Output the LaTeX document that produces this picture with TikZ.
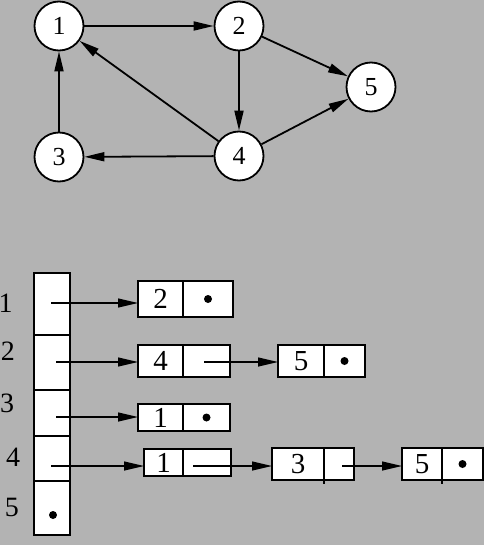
\documentclass[tikz,border=0pt]{standalone}
\usepackage{fontspec}
\setmainfont{Liberation Serif}
\usetikzlibrary{arrows.meta, positioning}
\definecolor{bggray}{RGB}{179,179,179}

\begin{document}
\begin{tikzpicture}[x=1pt, y=-1pt,
                    vtx/.style={draw, circle, fill=white, line width=1.8pt, minimum size=49pt,
                            inner sep=0pt, font=\fontsize{26}{26}\selectfont},
                    edge/.style={-{Triangle[length=20pt, width=9pt]}, line width=1.8pt},
                    slot/.style={draw, fill=white, line width=1.3pt, minimum width=36pt,
                            inner sep=0pt, outer sep=0pt},
                    cell/.style={draw, fill=white, line width=1.3pt, inner sep=0pt, outer sep=0pt,
                            font=\fontsize{29}{29}\selectfont},
                    lbl/.style={inner sep=0pt, font=\fontsize{28}{28}\selectfont},
                    ptr/.style={-{Triangle[length=20pt, width=9pt]}, line width=1.2pt},
                    nil/.style={circle, fill=black, inner sep=0pt, minimum size=8pt}]
                \fill[bggray] (0,0) rectangle (484,545);
                \useasboundingbox (0,0) rectangle (484,545);
                % graph
                \node[vtx] (v1) at (59,26) {1};
                \node[vtx] (v2) at (239,26) {2};
                \node[vtx] (v5) at (371,87) {5};
                \node[vtx] (v3) at (59,157) {3};
                \node[vtx] (v4) at (239,156) {4};
                \draw[edge] (v1) -- (v2);
                \draw[edge] (v2) -- (v5);
                \draw[edge] (v2) -- (v4);
                \draw[edge] (v4) -- (v5);
                \draw[edge] (v4) -- (v1);
                \draw[edge] (v4) -- (v3);
                \draw[edge] (v3) -- (v1);
                % adjacency array
                \node[slot, minimum height=62pt] (c1) at (52,304) {};
                \node[slot, minimum height=55pt] (c2) at (52,362.5) {};
                \node[slot, minimum height=46pt] (c3) at (52,413) {};
                \node[slot, minimum height=45pt] (c4) at (52,458.5) {};
                \node[slot, minimum height=54pt] (c5) at (52,508) {};
                \node[nil] (n5) at (53,515) {};
                \node[lbl] (r1) at (5.5,303) {1};
                \node[lbl] (r2) at (8,351) {2};
                \node[lbl] (r3) at (7,403) {3};
                \node[lbl] (r4) at (13,457) {4};
                \node[lbl] (r5) at (12,507) {5};
                % lists
                \node[cell, minimum width=45pt, minimum height=36pt] (k1) at (160.5,299) {2};
                \node[cell, minimum width=50pt, minimum height=36pt, right=0pt of k1] (p1) {};
                \node[nil] (n1) at (p1.center) {};
                \node[cell, minimum width=45pt, minimum height=32pt] (k2) at (160.5,361) {4};
                \node[cell, minimum width=47pt, minimum height=32pt, right=0pt of k2] (p2) {};
                \node[cell, minimum width=46pt, minimum height=32pt] (k2b) at (301,361) {5};
                \node[cell, minimum width=41pt, minimum height=32pt, right=0pt of k2b] (p2b) {};
                \node[nil] (n2) at (p2b.center) {};
                \node[cell, minimum width=45pt, minimum height=27pt] (k3) at (160.5,417.5) {1};
                \node[cell, minimum width=47pt, minimum height=27pt, right=0pt of k3] (p3) {};
                \node[nil] (n3) at (p3.center) {};
                \node[cell, minimum width=39pt, minimum height=27pt] (k4) at (163.5,462.5) {1};
                \node[cell, minimum width=48pt, minimum height=27pt, right=0pt of k4] (p4) {};
                \node[cell, minimum width=52pt, minimum height=32pt] (k4b) at (298,464) {3};
                \node[cell, minimum width=30pt, minimum height=32pt, right=0pt of k4b] (p4b) {};
                \node[cell, minimum width=40pt, minimum height=32pt] (k4c) at (422,464) {5};
                \node[cell, minimum width=41pt, minimum height=32pt, right=0pt of k4c] (p4c) {};
                \node[nil] (n4) at (p4c.center) {};
                \draw[line width=1.3pt] (k4b.south east) -- ++(0,4);
                \draw[line width=1.3pt] (k4c.south east) -- ++(0,4);
                % pointers
                \coordinate (s1) at (51,303);
                \coordinate (s2) at (56,362);
                \coordinate (s3) at (56,417);
                \coordinate (s4) at (51,466);
                \coordinate (t2) at (204,362);
                \coordinate (t4) at (193,466);
                \coordinate (u4) at (342,466);
                \draw[ptr] (s1) -- (s1 -| k1.west);
                \draw[ptr] (s2) -- (s2 -| k2.west);
                \draw[ptr] (s3) -- (s3 -| k3.west);
                \draw[ptr] (s4) -- (s4 -| k4.west);
                \draw[ptr] (t2) -- (t2 -| k2b.west);
                \draw[ptr] (t4) -- (t4 -| k4b.west);
                \draw[ptr] (u4) -- (u4 -| k4c.west);
            \end{tikzpicture}
\end{document}
